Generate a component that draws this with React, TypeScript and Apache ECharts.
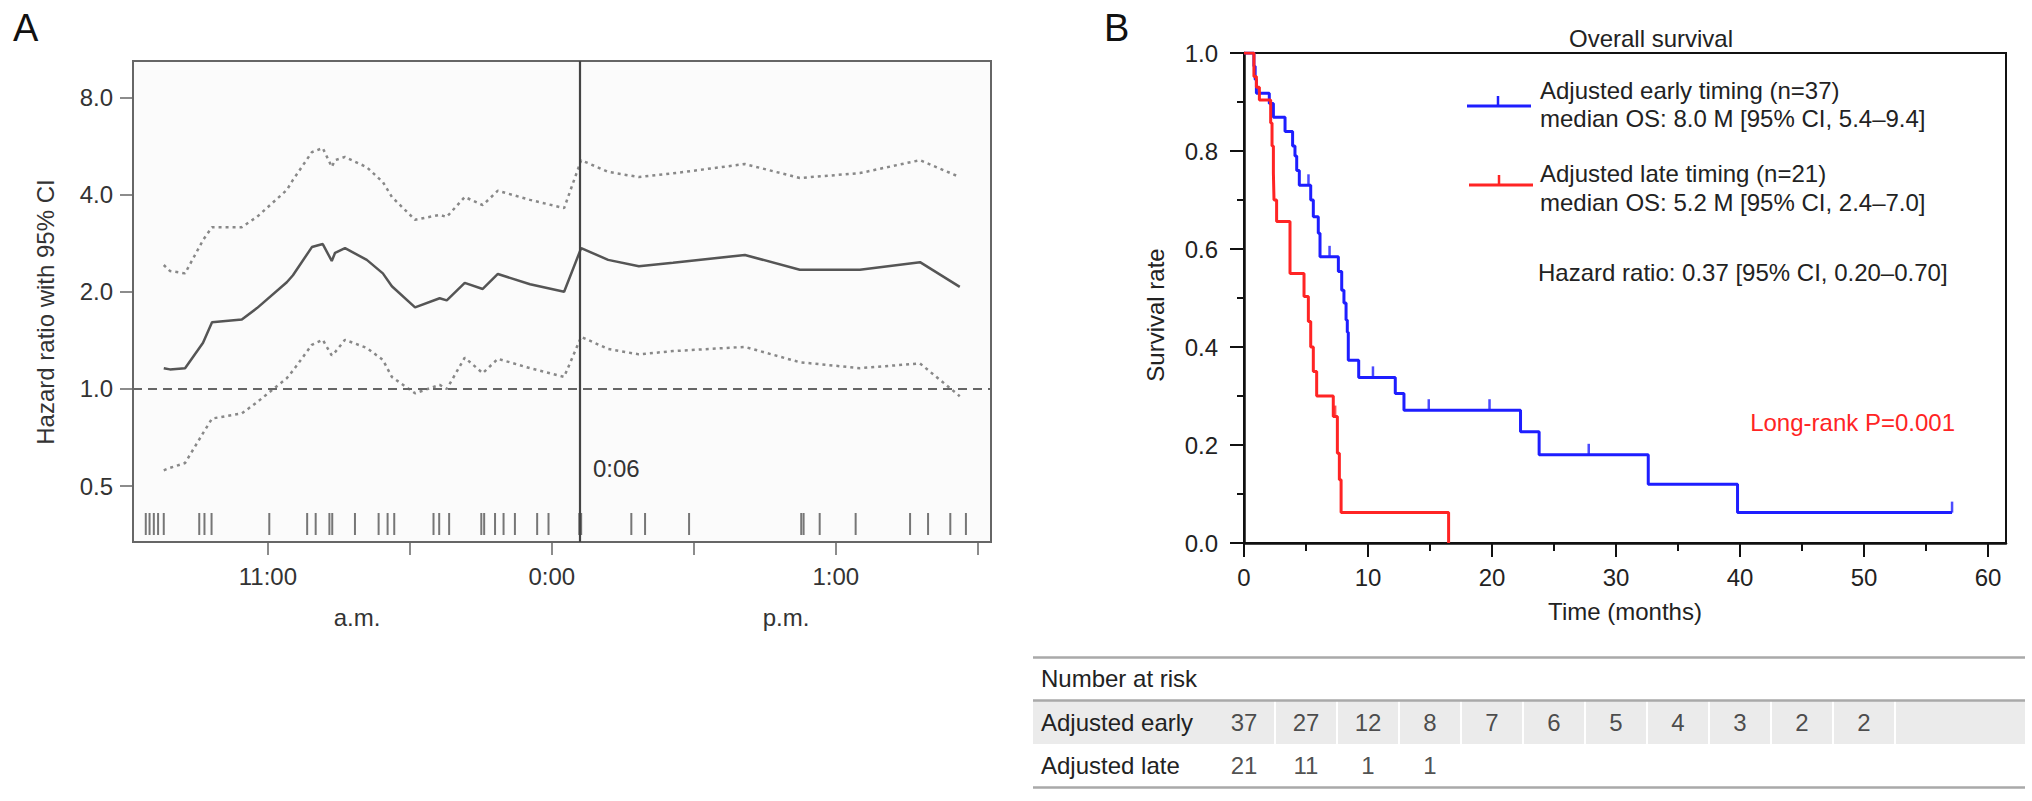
import * as React from "react";
import * as echarts from "echarts";
import { useEffect, useRef } from "react";

const FONT = '"Liberation Sans", Arial, Helvetica, sans-serif';

// ---- Panel A: hazard ratio over time of day (minutes after 11:00 a.m.) ----
const hrTimes = [
  -22.0, -20.7, -17.5, -13.7, -11.8, -5.5, -2.3, 4.0, 5.3, 9.3, 11.6, 13.5, 14.2, 16.3, 20.9, 24.3, 26.2,
  31.1, 36.3, 37.8, 41.6, 45.4, 48.6, 55.4, 62.6, 66.2, 71.9, 78.4, 85.6, 100.8, 112.4, 125.1, 137.8, 146.2,
];
const hrValues = [
  1.16, 1.15, 1.16, 1.39, 1.61, 1.64, 1.78, 2.14, 2.25, 2.75, 2.81, 2.49, 2.64, 2.73, 2.51, 2.28, 2.08,
  1.79, 1.91, 1.88, 2.13, 2.04, 2.27, 2.11, 2.0, 2.73, 2.51, 2.4, 2.46, 2.6, 2.34, 2.34, 2.47, 2.07,
];
const hrUpper = [
  2.42, 2.32, 2.28, 2.89, 3.17, 3.17, 3.41, 4.13, 4.44, 5.41, 5.57, 4.87, 5.11, 5.23, 4.86, 4.37, 3.93,
  3.34, 3.46, 3.41, 3.93, 3.71, 4.11, 3.85, 3.63, 5.11, 4.7, 4.53, 4.65, 4.97, 4.5, 4.66, 5.11, 4.53,
];
const hrLower = [
  0.56, 0.57, 0.59, 0.73, 0.81, 0.84, 0.91, 1.08, 1.14, 1.37, 1.42, 1.27, 1.3, 1.42, 1.34, 1.23, 1.09,
  0.97, 1.03, 1.0, 1.25, 1.12, 1.24, 1.16, 1.09, 1.45, 1.33, 1.28, 1.31, 1.35, 1.21, 1.16, 1.2, 0.95,
];
const rugTimes = [
  -25.8, -25.0, -24.1, -23.2, -22.0, -14.5, -13.4, -11.9, 0.3, 8.3, 10.1, 13.0, 13.6, 18.4, 23.4, 25.3,
  26.7, 35.0, 36.2, 38.3, 45.1, 45.7, 48.0, 49.8, 52.2, 56.9, 59.3, 65.8, 66.2, 76.8, 79.7, 89.0, 112.7,
  113.2, 116.6, 124.2, 135.7, 139.5, 144.2, 147.5,
];
const cutoffTime = 66; // 0:06
const cutoffLabel = "0:06";
const xTicksA = [0, 30, 60, 90, 120, 150];
const xLabelValuesA = [0, 60, 120];
const xLabelsA = ["11:00", "0:00", "1:00"];
const yTicksA = [0.5, 1, 2, 4, 8];

// ---- Panel B: Kaplan-Meier, [month, survival] ----
const earlySteps = [
  [0, 1.0], [0.8, 0.973], [0.9, 0.946], [1.0, 0.918], [2.04, 0.897], [2.37, 0.869], [3.31, 0.84],
  [3.92, 0.81], [4.11, 0.79], [4.25, 0.76], [4.46, 0.73], [5.38, 0.7], [5.59, 0.666], [5.99, 0.632],
  [6.13, 0.584], [7.61, 0.554], [7.88, 0.516], [8.06, 0.49], [8.23, 0.455], [8.33, 0.43], [8.41, 0.373],
  [9.25, 0.338], [12.2, 0.305], [12.9, 0.271], [22.3, 0.227], [23.8, 0.18], [32.6, 0.12], [39.8, 0.062],
  [57.1, 0.062],
];
const lateSteps = [
  [0, 1.0], [0.8, 0.952], [1.0, 0.93], [1.24, 0.904], [2.15, 0.857], [2.26, 0.81], [2.37, 0.755],
  [2.42, 0.7], [2.63, 0.656], [3.71, 0.55], [4.84, 0.503], [5.19, 0.452], [5.38, 0.4], [5.59, 0.35],
  [5.86, 0.3], [7.2, 0.258], [7.53, 0.183], [7.69, 0.129], [7.83, 0.062], [16.5, 0],
];
const earlyCensored = [5.2, 6.9, 10.4, 14.9, 19.8, 27.8, 57.1];
const lateCensored = [7.35];
const xTicksB = [0, 10, 20, 30, 40, 50, 60];
const riskTimes = [0, 5, 10, 15, 20, 25, 30, 35, 40, 45, 50];
const riskEarly = [37, 27, 12, 8, 7, 6, 5, 4, 3, 2, 2];
const riskLate = [21, 11, 1, 1];
const riskRows = ["Number at risk", "Adjusted early", "Adjusted late"];

const BLUE = "#1e1eff";
const RED = "#ff2424";

const stepValueAt = (steps: number[][], t: number) => {
  let v = steps[0][1];
  for (const [x, y] of steps) if (x <= t) v = y;
  return v;
};

const text = (t: string, x: number, y: number, extra: any = {}) => ({
  type: "text",
  x,
  y,
  silent: true,
  rotation: extra.rotation || 0,
  style: {
    text: t,
    fontSize: extra.fontSize || 24,
    fontFamily: FONT,
    fill: extra.fill || "#222",
    align: extra.align || "left",
    textAlign: extra.align || "left",
    verticalAlign: "middle",
    textVerticalAlign: "middle",
  },
});

const hline = (x1: number, x2: number, y: number, stroke: string, w: number, z = 50) => ({
  type: "line",
  z,
  silent: true,
  shape: { x1, y1: y, x2, y2: y },
  style: { stroke, lineWidth: w },
});

const App = () => {
  const chartRef = useRef<HTMLDivElement>(null);

  useEffect(() => {
    if (!chartRef.current) return;
    const chart = echarts.init(chartRef.current, null, { renderer: "svg" });
    const log2 = (v: number) => Math.log2(v);
    const tableLeft = 1033;
    const tableRight = 2025;

    const option = {
      animation: false,
      textStyle: { fontFamily: FONT },
      grid: [
        { left: 133, top: 61, width: 858, height: 481, show: true, borderColor: "#666", borderWidth: 2, backgroundColor: "#fbfbfb" },
        { left: 1244, top: 53, width: 762, height: 490, show: true, borderColor: "#111", borderWidth: 2 },
        { left: 1244, top: 657, width: 762, height: 130 },
      ],
      xAxis: [
        {
          gridIndex: 0,
          type: "value",
          min: -28.5,
          max: 152.8,
          axisLine: { onZero: false, lineStyle: { color: "#666", width: 2 } },
          axisTick: { customValues: xTicksA, length: 13, lineStyle: { color: "#666", width: 1.5 } },
          axisLabel: {
            customValues: xLabelValuesA,
            formatter: (v: number) => xLabelsA[xLabelValuesA.indexOf(v)] ?? "",
            fontSize: 24,
            color: "#333",
            margin: 22,
          },
          splitLine: { show: false },
        },
        {
          gridIndex: 1,
          type: "value",
          position: "bottom",
          min: 0,
          max: 61.45,
          name: "Time (months)",
          nameLocation: "middle",
          nameGap: 56,
          nameTextStyle: { fontSize: 24, color: "#222" },
          axisLine: { onZero: false, lineStyle: { color: "#111", width: 2.5 } },
          axisTick: { customValues: xTicksB, length: 14, lineStyle: { color: "#111", width: 2 } },
          axisLabel: { customValues: xTicksB, fontSize: 24, color: "#222", margin: 22 },
          splitLine: { show: false },
        },
        {
          gridIndex: 1,
          type: "value",
          position: "bottom",
          min: 0,
          max: 61.45,
          axisLine: { show: false, onZero: false },
          axisTick: { customValues: xTicksB.slice(0, -1).map((v) => v + 5), length: 8, lineStyle: { color: "#111", width: 2 } },
          axisLabel: { show: false },
          splitLine: { show: false },
        },
        { gridIndex: 2, type: "value", min: 0, max: 61.45, show: false },
      ],
      yAxis: [
        {
          gridIndex: 0,
          type: "value",
          min: log2(0.336),
          max: log2(10.36),
          axisLine: { onZero: false, lineStyle: { color: "#666", width: 2 } },
          axisTick: { customValues: yTicksA.map(log2), length: 13, lineStyle: { color: "#666", width: 1.5 } },
          axisLabel: {
            customValues: yTicksA.map(log2),
            formatter: (v: number) => Math.pow(2, v).toFixed(1),
            fontSize: 24,
            color: "#333",
            margin: 20,
          },
          splitLine: { show: false },
        },
        {
          gridIndex: 1,
          type: "value",
          min: 0,
          max: 1,
          interval: 0.2,
          axisLine: { onZero: false, lineStyle: { color: "#111", width: 2.5 } },
          axisTick: { length: 14, lineStyle: { color: "#111", width: 2 } },
          minorTick: { show: true, splitNumber: 2, length: 7, lineStyle: { color: "#111", width: 2 } },
          axisLabel: { formatter: (v: number) => v.toFixed(1), fontSize: 24, color: "#222", margin: 26 },
          splitLine: { show: false },
          minorSplitLine: { show: false },
        },
        {
          gridIndex: 2,
          type: "category",
          inverse: true,
          data: riskRows,
          axisLine: { show: false },
          axisTick: { show: false },
          axisLabel: { align: "left", margin: 1244 - 1041, fontSize: 24, color: "#222" },
        },
      ],
      graphic: [
        text("A", 13, 28, { fontSize: 38, fill: "#111" }),
        text("B", 1104, 28, { fontSize: 38, fill: "#111" }),
        text("Hazard ratio with 95% CI", 45, 312, { rotation: Math.PI / 2, align: "center", fill: "#333" }),
        text(cutoffLabel, 593, 468, { fill: "#333" }),
        text("a.m.", 357, 617, { align: "center", fill: "#333" }),
        text("p.m.", 786, 617, { align: "center", fill: "#333" }),
        text("Overall survival", 1651, 38, { align: "center" }),
        text("Survival rate", 1155, 315, { rotation: Math.PI / 2, align: "center" }),
        hline(1467, 1531, 106, BLUE, 3),
        { type: "line", z: 50, silent: true, shape: { x1: 1498, y1: 96, x2: 1498, y2: 106 }, style: { stroke: BLUE, lineWidth: 2.5 } },
        text("Adjusted early timing (n=37)", 1540, 90),
        text("median OS: 8.0 M [95% CI, 5.4–9.4]", 1540, 118),
        hline(1469, 1533, 185, RED, 3),
        { type: "line", z: 50, silent: true, shape: { x1: 1499, y1: 175, x2: 1499, y2: 185 }, style: { stroke: RED, lineWidth: 2.5 } },
        text("Adjusted late timing (n=21)", 1540, 173),
        text("median OS: 5.2 M [95% CI, 2.4–7.0]", 1540, 202),
        text("Hazard ratio: 0.37 [95% CI, 0.20–0.70]", 1538, 272),
        text("Long-rank P=0.001", 1955, 422, { align: "right", fill: RED }),
        { type: "rect", z: -10, silent: true, shape: { x: tableLeft, y: 701, width: tableRight - tableLeft, height: 43 }, style: { fill: "#ebebeb" } },
        hline(tableLeft, tableRight, 657.5, "#a9a9a9", 2.5),
        hline(tableLeft, tableRight, 700.5, "#a9a9a9", 2.5),
        hline(tableLeft, tableRight, 787.5, "#a9a9a9", 2.5),
      ],
      series: [
        {
          type: "line",
          xAxisIndex: 0,
          yAxisIndex: 0,
          data: hrTimes.map((t, i) => [t, log2(hrUpper[i])]),
          showSymbol: false,
          lineStyle: { color: "#888", width: 2.5, type: [3, 4] },
          silent: true,
        },
        {
          type: "line",
          xAxisIndex: 0,
          yAxisIndex: 0,
          data: hrTimes.map((t, i) => [t, log2(hrLower[i])]),
          showSymbol: false,
          lineStyle: { color: "#888", width: 2.5, type: [3, 4] },
          silent: true,
        },
        {
          type: "line",
          xAxisIndex: 0,
          yAxisIndex: 0,
          data: hrTimes.map((t, i) => [t, log2(hrValues[i])]),
          showSymbol: false,
          lineStyle: { color: "#555", width: 2.5 },
          silent: true,
          markLine: {
            silent: true,
            symbol: ["none", "none"],
            label: { show: false },
            data: [
              { yAxis: log2(1), lineStyle: { type: [9, 6], color: "#666", width: 2 } },
              { xAxis: cutoffTime, lineStyle: { type: "solid", color: "#444", width: 2.2 } },
            ],
          },
        },
        {
          type: "scatter",
          xAxisIndex: 0,
          yAxisIndex: 0,
          data: rugTimes.map((t) => [t, log2(0.382)]),
          symbol: "rect",
          symbolSize: [2, 22],
          itemStyle: { color: "#555" },
          silent: true,
        },
        {
          type: "line",
          xAxisIndex: 1,
          yAxisIndex: 1,
          step: "end",
          data: earlySteps,
          showSymbol: false,
          lineStyle: { color: BLUE, width: 3 },
          silent: true,
        },
        {
          type: "line",
          xAxisIndex: 1,
          yAxisIndex: 1,
          step: "end",
          data: lateSteps,
          showSymbol: false,
          lineStyle: { color: RED, width: 3 },
          silent: true,
        },
        {
          type: "scatter",
          xAxisIndex: 1,
          yAxisIndex: 1,
          data: earlyCensored.map((t) => [t, stepValueAt(earlySteps, t)]),
          symbol: "rect",
          symbolSize: [2.5, 11],
          symbolOffset: [0, -5.5],
          itemStyle: { color: BLUE },
          silent: true,
        },
        {
          type: "scatter",
          xAxisIndex: 1,
          yAxisIndex: 1,
          data: lateCensored.map((t) => [t, stepValueAt(lateSteps, t)]),
          symbol: "rect",
          symbolSize: [2.5, 11],
          symbolOffset: [0, -5.5],
          itemStyle: { color: RED },
          silent: true,
        },
        {
          type: "scatter",
          xAxisIndex: 3,
          yAxisIndex: 2,
          data: riskEarly.map((n, i) => [riskTimes[i], riskRows[1], n]),
          symbolSize: 1,
          itemStyle: { color: "rgba(0,0,0,0)" },
          label: { show: true, position: "inside", formatter: (p: any) => String(p.value[2]), fontSize: 24, color: "#222", fontFamily: FONT },
          silent: true,
          markLine: {
            silent: true,
            symbol: ["none", "none"],
            label: { show: false },
            lineStyle: { color: "#fff", width: 2, type: "solid" },
            data: riskTimes.map((t) => ({ xAxis: t + 2.5 })),
          },
        },
        {
          type: "scatter",
          xAxisIndex: 3,
          yAxisIndex: 2,
          data: riskLate.map((n, i) => [riskTimes[i], riskRows[2], n]),
          symbolSize: 1,
          itemStyle: { color: "rgba(0,0,0,0)" },
          label: { show: true, position: "inside", formatter: (p: any) => String(p.value[2]), fontSize: 24, color: "#222", fontFamily: FONT },
          silent: true,
        },
      ],
    };

    chart.setOption(option as any);
    return () => {
      chart.dispose();
    };
  }, []);

  return (
    <div
      ref={chartRef}
      style={{ position: "fixed", left: 0, top: 0, width: 2032, height: 801, background: "#fff" }}
    />
  );
};

export default App;
